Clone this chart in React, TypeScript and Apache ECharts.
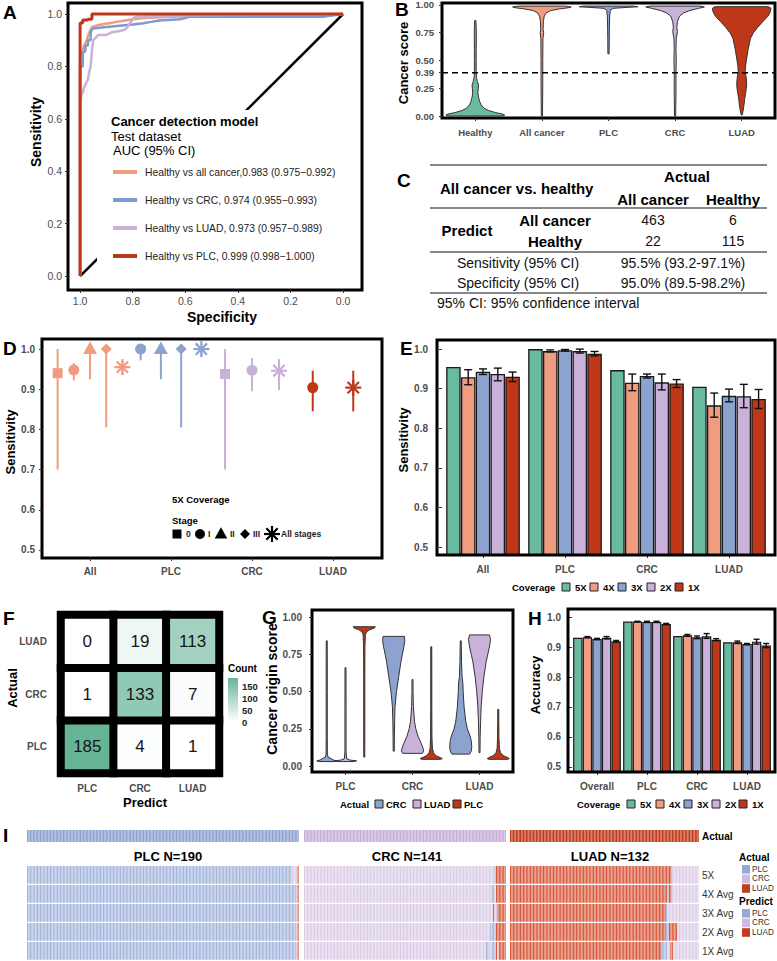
import { useEffect, useRef } from 'react';
import * as echarts from 'echarts';

const FONT = '"Liberation Sans", Arial, Helvetica, sans-serif';
const TEAL = '#6ABAA0';
const SALMON = '#EF9C80';
const BLUE = '#8DA3CF';
const LAV = '#C9B1DA';
const RED = '#BE3719';
const AXC = '#4D4D4D';

// ---------- Panel A : ROC curves, [specificity, sensitivity]
const rocAllCancer = [[1, 0], [1, 0.84], [0.99, 0.86], [0.985, 0.88], [0.975, 0.9], [0.965, 0.93], [0.955, 0.95], [0.94, 0.955], [0.92, 0.96], [0.89, 0.965], [0.86, 0.97], [0.83, 0.975], [0.8, 0.98], [0.76, 0.985], [0.65, 0.99], [0.45, 0.995], [0, 1]];
const rocCRC = [[1, 0], [1, 0.8], [0.99, 0.8], [0.99, 0.85], [0.98, 0.86], [0.98, 0.88], [0.97, 0.88], [0.97, 0.9], [0.96, 0.9], [0.96, 0.93], [0.955, 0.94], [0.95, 0.945], [0.9, 0.95], [0.85, 0.955], [0.8, 0.96], [0.76, 0.965], [0.73, 0.97], [0.7, 0.975], [0.62, 0.98], [0.58, 0.99], [0.07, 0.99], [0, 1]];
const rocLUAD = [[1, 0], [1, 0.63], [0.995, 0.69], [0.99, 0.7], [0.985, 0.72], [0.975, 0.74], [0.97, 0.75], [0.965, 0.78], [0.96, 0.8], [0.955, 0.86], [0.95, 0.9], [0.94, 0.91], [0.93, 0.92], [0.9, 0.92], [0.88, 0.93], [0.85, 0.935], [0.83, 0.94], [0.82, 0.95], [0.8, 0.98], [0.79, 0.99], [0.6, 0.995], [0, 1]];
const rocPLC = [[1, 0], [1, 0.966], [0.99, 0.966], [0.99, 0.977], [0.97, 0.977], [0.97, 0.98], [0.955, 0.98], [0.955, 1], [0, 1]];
const rocDiagonal = [[1, 0], [0, 1]];
const rocLegend = [
  'Healthy vs all cancer,0.983 (0.975\u22120.992)',
  'Healthy vs CRC, 0.974 (0.955\u22120.993)',
  'Healthy vs LUAD, 0.973 (0.957\u22120.989)',
  'Healthy vs PLC, 0.999 (0.998\u22121.000)',
];
const aTicks = [0, 0.2, 0.4, 0.6, 0.8, 1];

// ---------- Panel B : cancer score violins, profiles [score, relative half width]
const bCats = ['Healthy', 'All cancer', 'PLC', 'CRC', 'LUAD'];
const bHealthy = [[0, 0.97], [0.01, 1], [0.02, 0.9], [0.03, 0.7], [0.05, 0.45], [0.07, 0.3], [0.1, 0.2], [0.13, 0.15], [0.17, 0.11], [0.21, 0.09], [0.25, 0.1], [0.28, 0.11], [0.31, 0.07], [0.35, 0.04], [0.4, 0.03], [0.5, 0.03], [0.6, 0.03], [0.7, 0.035], [0.8, 0.03], [0.86, 0.02]];
const bAllCancer = [[0, 0.02], [0.3, 0.03], [0.5, 0.03], [0.7, 0.035], [0.75, 0.06], [0.78, 0.04], [0.85, 0.05], [0.9, 0.08], [0.93, 0.15], [0.95, 0.3], [0.965, 0.6], [0.975, 0.9], [0.982, 1], [0.99, 0.8]];
const bPLC = [[0.56, 0.02], [0.7, 0.025], [0.8, 0.03], [0.9, 0.04], [0.95, 0.06], [0.97, 0.15], [0.978, 0.6], [0.984, 1], [0.99, 0.85]];
const bCRC = [[0, 0.02], [0.2, 0.03], [0.4, 0.03], [0.5, 0.04], [0.6, 0.03], [0.7, 0.04], [0.76, 0.08], [0.8, 0.06], [0.85, 0.08], [0.9, 0.15], [0.93, 0.3], [0.95, 0.5], [0.97, 0.8], [0.982, 1], [0.99, 0.85]];
const bLUAD = [[0.01, 0.01], [0.05, 0.05], [0.1, 0.08], [0.15, 0.1], [0.2, 0.13], [0.25, 0.16], [0.3, 0.17], [0.35, 0.15], [0.4, 0.12], [0.45, 0.13], [0.5, 0.16], [0.6, 0.22], [0.7, 0.3], [0.75, 0.4], [0.8, 0.55], [0.85, 0.72], [0.9, 0.9], [0.94, 0.98], [0.97, 1], [0.985, 0.92]];
const bViolins = [bHealthy, bAllCancer, bPLC, bCRC, bLUAD];
const bColors = [TEAL, SALMON, BLUE, LAV, RED];
const bTicks = [0, 0.25, 0.39, 0.5, 0.75, 1];
const bCutoff = 0.39;

// ---------- Panel C : confusion table
const cMatrix = [[463, 6], [22, 115]];
const cSens = '95.5% (93.2-97.1%)';
const cSpec = '95.0% (89.5-98.2%)';

// ---------- Panel D : sensitivity by stage (5X)
const dCats = ['All', 'PLC', 'CRC', 'LUAD'];
const dStageNames = ['0', 'I', 'II', 'III', 'All stages'];
const dStages = [[0, 1, 2, 3, 4], [1, 2, 3, 4], [0, 1, 4], [1, 4]];
const dEst = [[0.94, 0.948, 1, 1, 0.955], [1, 1, 1, 1], [0.938, 0.947, 0.946], [0.904, 0.904]];
const dLo = [[0.7, 0.922, 0.925, 0.805, 0.935], [0.972, 0.925, 0.805, 0.985], [0.7, 0.895, 0.898], [0.845, 0.845]];
const dHi = [[1, 0.965, 1, 1, 0.97], [1, 1, 1, 1], [1, 0.978, 0.975], [0.946, 0.946]];
const dColors = [SALMON, BLUE, LAV, RED];
const dTicks = [0.5, 0.6, 0.7, 0.8, 0.9, 1];

// ---------- Panel E : sensitivity by coverage
const covNames = ['5X', '4X', '3X', '2X', '1X'];
const covColors = [TEAL, SALMON, BLUE, LAV, RED];
const eCats = ['All', 'PLC', 'CRC', 'LUAD'];
const eVals = [[0.955, 1.0, 0.947, 0.905], [0.929, 0.995, 0.915, 0.858], [0.943, 0.997, 0.932, 0.882], [0.937, 0.995, 0.916, 0.881], [0.93, 0.988, 0.913, 0.874]];
const eLo = [null, [0.91, 0.993, 0.895, 0.828], [0.936, 0.995, 0.927, 0.867], [0.92, 0.99, 0.897, 0.852], [0.918, 0.983, 0.903, 0.85]];
const eHi = [null, [0.948, 0.998, 0.937, 0.889], [0.95, 0.999, 0.937, 0.899], [0.952, 1.0, 0.937, 0.911], [0.942, 0.994, 0.923, 0.898]];

// ---------- Panel F : origin confusion heatmap [actual][predict]
const fCats = ['PLC', 'CRC', 'LUAD'];
const fCounts = [[185, 4, 1], [1, 133, 7], [0, 19, 113]];
const fLegendTicks = [0, 50, 100, 150];

// ---------- Panel G : cancer origin score violins [x category][actual group]
const gCats = ['PLC', 'CRC', 'LUAD'];
const gActual = ['CRC', 'LUAD', 'PLC'];
const gColors = [BLUE, LAV, RED];
const gViolins = [
  [
    [[0.03, 0.7], [0.035, 0.9], [0.04, 0.6], [0.05, 0.4], [0.06, 0.12], [0.08, 0.06], [0.2, 0.05], [0.5, 0.05], [0.84, 0.04]],
    [[0.03, 0.8], [0.035, 1], [0.04, 0.4], [0.05, 0.1], [0.1, 0.05], [0.4, 0.05], [0.66, 0.04]],
    [[0.06, 0.04], [0.3, 0.05], [0.6, 0.05], [0.8, 0.06], [0.88, 0.1], [0.9, 0.2], [0.915, 0.5], [0.925, 0.9], [0.935, 1]],
  ],
  [
    [[0.1, 0.05], [0.2, 0.06], [0.3, 0.08], [0.4, 0.12], [0.5, 0.25], [0.6, 0.45], [0.7, 0.65], [0.75, 0.78], [0.8, 0.92], [0.84, 1], [0.87, 0.97]],
    [[0.085, 0.9], [0.1, 1], [0.12, 0.95], [0.15, 0.8], [0.2, 0.5], [0.25, 0.3], [0.3, 0.18], [0.4, 0.08], [0.5, 0.05], [0.58, 0.04]],
    [[0.045, 0.85], [0.05, 1], [0.06, 0.7], [0.07, 0.4], [0.09, 0.2], [0.12, 0.1], [0.2, 0.06], [0.4, 0.05], [0.6, 0.05], [0.8, 0.04]],
  ],
  [
    [[0.08, 0.8], [0.1, 0.95], [0.13, 1], [0.17, 0.95], [0.2, 0.85], [0.25, 0.6], [0.3, 0.45], [0.4, 0.3], [0.5, 0.22], [0.55, 0.2], [0.6, 0.12], [0.7, 0.07], [0.84, 0.04]],
    [[0.09, 0.04], [0.2, 0.06], [0.3, 0.1], [0.4, 0.15], [0.5, 0.25], [0.6, 0.4], [0.7, 0.6], [0.75, 0.75], [0.8, 0.9], [0.85, 1], [0.88, 0.9]],
    [[0.045, 0.85], [0.05, 1], [0.06, 0.75], [0.07, 0.45], [0.09, 0.2], [0.12, 0.1], [0.2, 0.06], [0.3, 0.05], [0.38, 0.04]],
  ],
];
const gTicks = [0, 0.25, 0.5, 0.75, 1];

// ---------- Panel H : accuracy by coverage
const hCats = ['Overall', 'PLC', 'CRC', 'LUAD'];
const hVals = [[0.931, 0.985, 0.937, 0.916], [0.933, 0.985, 0.939, 0.916], [0.927, 0.984, 0.933, 0.91], [0.931, 0.984, 0.936, 0.918], [0.919, 0.977, 0.924, 0.905]];
const hLo = [null, [0.931, 0.984, 0.936, 0.912], [0.925, 0.982, 0.928, 0.908], [0.927, 0.982, 0.929, 0.91], [0.916, 0.975, 0.921, 0.898]];
const hHi = [null, [0.935, 0.986, 0.942, 0.92], [0.929, 0.986, 0.937, 0.912], [0.935, 0.986, 0.945, 0.926], [0.922, 0.979, 0.928, 0.912]];

// ---------- Panel I : per-sample predictions, run lengths [class, count]; 0 PLC, 1 CRC, 2 LUAD
const iClasses = ['PLC', 'CRC', 'LUAD'];
const iRows = ['5X', '4X Avg', '3X Avg', '2X Avg', '1X Avg'];
const iSections = ['PLC N=190', 'CRC N=141', 'LUAD N=132'];
const iSectionSizes = [190, 141, 132];
const iRunsPLC = [
  [[0, 185], [1, 4], [2, 1]],
  [[0, 188], [1, 1], [2, 1]],
  [[0, 188], [1, 1], [2, 1]],
  [[0, 188], [1, 1], [2, 1]],
  [[0, 188], [1, 1], [2, 1]],
];
const iRunsCRC = [
  [[1, 133], [0, 1], [2, 7]],
  [[1, 131], [0, 2], [1, 1], [2, 7]],
  [[1, 132], [2, 1], [1, 2], [2, 6]],
  [[1, 130], [0, 4], [2, 7]],
  [[1, 127], [0, 2], [1, 2], [0, 3], [2, 1], [1, 1], [2, 5]],
];
const iRunsLUAD = [
  [[2, 113], [1, 19]],
  [[2, 110], [0, 1], [2, 2], [1, 19]],
  [[2, 109], [0, 1], [1, 22]],
  [[2, 109], [0, 2], [2, 6], [1, 15]],
  [[2, 106], [0, 4], [1, 2], [2, 2], [1, 18]],
];
const iRuns = [iRunsPLC, iRunsCRC, iRunsLUAD];
const iActualColors = ['#8EA2CF', '#C7AFD9', '#C13B1C'];
const iPredColors = ['#A3B5DD', '#DACCE6', '#D8573A'];
const iLegendColors = ['#93A9D6', '#CFB9E1', '#C23B1C'];

// ---------------- helpers
function T(x: number, y: number, text: string, size: number, o: any = {}) {
  const al = o.align || 'left';
  return {
    type: 'text', x, y, z: 100, rotation: o.rot ? Math.PI / 2 : 0,
    style: {
      text, fontSize: size, fontWeight: o.bold ? 'bold' : 'normal', fontFamily: FONT,
      fill: o.color || '#000', align: al, textAlign: al, verticalAlign: 'middle', textVerticalAlign: 'middle',
    },
  };
}
function L(x1: number, y1: number, x2: number, y2: number, color: string, w: number) {
  return { type: 'line', z: 100, shape: { x1, y1, x2, y2 }, style: { stroke: color, lineWidth: w } };
}
function box(x: number, y: number, w: number, h: number, fill: string, stroke = '#222', lw = 1) {
  return { type: 'rect', z: 100, shape: { x, y, width: w, height: h }, style: { fill, stroke, lineWidth: lw } };
}
function symbolEl(st: number, cx: number, cy: number, color: string, s = 1): any {
  if (st === 0) return { type: 'rect', shape: { x: cx - 5 * s, y: cy - 5 * s, width: 10 * s, height: 10 * s }, style: { fill: color } };
  if (st === 1) return { type: 'circle', shape: { cx, cy, r: 5.5 * s }, style: { fill: color } };
  if (st === 2) return { type: 'polygon', shape: { points: [[cx, cy - 7.5 * s], [cx + 7 * s, cy + 5 * s], [cx - 7 * s, cy + 5 * s]] }, style: { fill: color } };
  if (st === 3) return { type: 'polygon', shape: { points: [[cx, cy - 5.5 * s], [cx + 5.5 * s, cy], [cx, cy + 5.5 * s], [cx - 5.5 * s, cy]] }, style: { fill: color } };
  const r = 8 * s;
  const d = r * Math.SQRT1_2;
  return {
    type: 'group',
    children: [[0, -r, 0, r], [-r, 0, r, 0], [-d, -d, d, d], [-d, d, d, -d]].map(([a, b, c, e]) => ({
      type: 'line', shape: { x1: cx + a, y1: cy + b, x2: cx + c, y2: cy + e }, style: { stroke: color, lineWidth: 2.2 * s },
    })),
  };
}
function violinPoints(prof: number[][], center: number, half: number, api: any, ci: number) {
  const right = prof.map(([s, w]) => [center + Math.max(w * half, 0.5), api.coord([ci, s])[1]]);
  const left = prof.slice().reverse().map(([s, w]) => [center - Math.max(w * half, 0.5), api.coord([ci, s])[1]]);
  return right.concat(left);
}

const tickStyle = { show: true, length: 3, lineStyle: { color: '#333', width: 1 } };
function lab(size: number, bold: boolean, margin: number, extra: any = {}) {
  return { fontSize: size, fontWeight: bold ? 'bold' : 'normal', color: AXC, fontFamily: FONT, margin, ...extra };
}
function valAxis(gi: number, min: number, max: number, ticks: number[] | null, label: any, extra: any = {}) {
  return {
    type: 'value', gridIndex: gi, min, max,
    axisLine: { show: false, onZero: false }, splitLine: { show: false },
    axisTick: ticks ? { ...tickStyle, customValues: ticks } : { show: false },
    axisLabel: ticks ? { ...label, customValues: ticks } : { show: false },
    ...extra,
  };
}
function catAxis(gi: number, data: string[], label: any, ticks = true) {
  return {
    type: 'category', gridIndex: gi, data,
    axisLine: { show: false, onZero: false }, splitLine: { show: false },
    axisTick: ticks ? { ...tickStyle, alignWithLabel: true } : { show: false },
    axisLabel: { ...label, interval: 0 },
  };
}
function errorBarSeries(gi: number, lo: any[], hi: any[], spacing: number, cap: number) {
  const data: number[][] = [];
  lo.forEach((arr, k) => {
    if (!arr) return;
    arr.forEach((v: number, ci: number) => data.push([ci, v, k, hi[k][ci]]));
  });
  return {
    type: 'custom', xAxisIndex: gi, yAxisIndex: gi, silent: true, clip: false, z: 5,
    encode: { x: 0, y: 1 },
    data,
    renderItem: (_p: any, api: any) => {
      const ci = api.value(0);
      const k = api.value(2);
      const b = api.coord([ci, api.value(1)]);
      const t = api.coord([ci, api.value(3)]);
      const x = b[0] + (k - 2) * spacing;
      const st = { stroke: '#111', lineWidth: 1.4 };
      return {
        type: 'group', children: [
          { type: 'line', shape: { x1: x, y1: b[1], x2: x, y2: t[1] }, style: st },
          { type: 'line', shape: { x1: x - cap, y1: b[1], x2: x + cap, y2: b[1] }, style: st },
          { type: 'line', shape: { x1: x - cap, y1: t[1], x2: x + cap, y2: t[1] }, style: st },
        ],
      };
    },
  };
}

function buildOption() {
  const gridBorder = { show: true, borderColor: '#000', borderWidth: 3, backgroundColor: 'transparent' };
  const grids: any[] = [
    { left: 68, top: 3, width: 294, height: 287, ...gridBorder }, // 0 A
    { left: 442, top: 3, width: 333, height: 115, ...gridBorder }, // 1 B
    { left: 42, top: 339, width: 340, height: 219, ...gridBorder }, // 2 D
    { left: 442, top: 340, width: 328, height: 215 }, // 3 E
    { left: 61, top: 615, width: 158, height: 158 }, // 4 F
    { left: 312, top: 610, width: 201, height: 162, ...gridBorder }, // 5 G
    { left: 572, top: 609, width: 200, height: 163 }, // 6 H
  ];
  const iX = [[27, 272], [304, 202], [510, 189]];
  iX.forEach(([l, w]) => grids.push({ left: l, top: 830, width: w, height: 12 })); // 7,8,9
  iX.forEach(([l, w]) => grids.push({ left: l, top: 866, width: w, height: 95 })); // 10,11,12
  grids.forEach((g) => { g.outerBoundsMode = 'none'; g.containLabel = false; });

  const xAxes: any[] = [];
  const yAxes: any[] = [];
  // A
  xAxes.push(valAxis(0, -0.072, 1.046, aTicks, lab(10.5, false, 5, { formatter: (v: number) => v.toFixed(1) }), { inverse: true }));
  yAxes.push(valAxis(0, -0.053, 1.042, aTicks, lab(10.5, false, 6, { formatter: (v: number) => v.toFixed(1) })));
  // B
  xAxes.push(catAxis(1, bCats, lab(9.5, true, 9)));
  yAxes.push(valAxis(1, -0.018, 1.018, bTicks, lab(9.5, true, 8, { formatter: (v: number) => v.toFixed(2) })));
  // D
  xAxes.push(valAxis(2, 0.407, 4.605, [1, 2, 3, 4], lab(10, true, 8, { formatter: (v: number) => dCats[Math.round(v) - 1] })));
  yAxes.push(valAxis(2, 0.48, 1.025, dTicks, lab(10, true, 7, { formatter: (v: number) => v.toFixed(1) })));
  // E
  xAxes.push(catAxis(3, eCats, lab(10, true, 9)));
  yAxes.push(valAxis(3, 0.48, 1.023, dTicks, lab(10, true, 14, { formatter: (v: number) => v.toFixed(1) })));
  // F
  xAxes.push(catAxis(4, fCats, lab(10, true, 10), false));
  yAxes.push(catAxis(4, fCats, lab(10, true, 14), false));
  // G
  xAxes.push(catAxis(5, gCats, lab(10, true, 9)));
  yAxes.push(valAxis(5, -0.04, 1.047, gTicks, lab(10, true, 10, { formatter: (v: number) => v.toFixed(2) })));
  // H
  xAxes.push(catAxis(6, hCats, lab(10, true, 9)));
  yAxes.push(valAxis(6, 0.483, 1.027, dTicks, lab(10, true, 11, { formatter: (v: number) => v.toFixed(1) })));
  // I
  for (let r = 0; r < 2; r++) {
    iSectionSizes.forEach((n, s) => {
      const gi = 7 + r * 3 + s;
      xAxes.push({ type: 'value', gridIndex: gi, min: -0.5, max: n - 0.5, show: false });
      yAxes.push({ type: 'value', gridIndex: gi, min: -0.5, max: r === 0 ? 0.5 : iRows.length - 0.5, inverse: true, show: false });
    });
  }

  const series: any[] = [];
  // ---- A
  const rocs = [rocAllCancer, rocCRC, rocLUAD, rocPLC];
  const rocColors = [SALMON, '#7E9AD2', LAV, RED];
  series.push({ type: 'line', xAxisIndex: 0, yAxisIndex: 0, data: rocDiagonal, showSymbol: false, lineStyle: { color: '#000', width: 2.5 }, silent: true });
  rocs.forEach((d, i) => series.push({
    type: 'line', xAxisIndex: 0, yAxisIndex: 0, data: d, showSymbol: false, silent: true,
    lineStyle: { color: rocColors[i], width: i === 3 ? 3 : 2.5 },
  }));
  // ---- B
  series.push({
    type: 'custom', xAxisIndex: 1, yAxisIndex: 1, silent: true, encode: { x: 0, y: 1 },
    data: bCats.map((_, i) => [i, 0.5, i]),
    renderItem: (_p: any, api: any) => {
      const ci = api.value(0);
      const vi = api.value(2);
      const band = api.size([1, 0])[0];
      const center = api.coord([ci, 0])[0];
      return { type: 'polygon', shape: { points: violinPoints(bViolins[vi], center, band * 0.44, api, ci) }, style: { fill: bColors[vi], stroke: '#333', lineWidth: 1 } };
    },
  });
  series.push({
    type: 'custom', xAxisIndex: 1, yAxisIndex: 1, silent: true, encode: { x: 0, y: 1 }, z: 10,
    data: [[0, bCutoff]],
    renderItem: (p: any, api: any) => {
      const y = api.coord([0, api.value(1)])[1];
      const cs = p.coordSys;
      return { type: 'line', shape: { x1: cs.x, y1: y, x2: cs.x + cs.width, y2: y }, style: { stroke: '#000', lineWidth: 1.4, lineDash: [6, 4] } };
    },
  });
  // ---- D
  const dData: number[][] = [];
  dStages.forEach((sts, ci) => {
    const n = sts.length;
    sts.forEach((st, j) => dData.push([ci + 1 + (j - (n - 1) / 2) / n, dEst[ci][j], dLo[ci][j], dHi[ci][j], st, ci]));
  });
  series.push({
    type: 'custom', xAxisIndex: 2, yAxisIndex: 2, silent: true, clip: false, encode: { x: 0, y: 1 },
    data: dData,
    renderItem: (_p: any, api: any) => {
      const x = api.value(0);
      const p = api.coord([x, api.value(1)]);
      const lo = api.coord([x, api.value(2)]);
      const hi = api.coord([x, api.value(3)]);
      const col = dColors[api.value(5)];
      return {
        type: 'group', children: [
          { type: 'line', shape: { x1: p[0], y1: lo[1], x2: p[0], y2: hi[1] }, style: { stroke: col, lineWidth: 2 } },
          symbolEl(api.value(4), p[0], p[1], col),
        ],
      };
    },
  });
  // ---- E
  covNames.forEach((nm, k) => series.push({
    type: 'bar', name: nm, xAxisIndex: 3, yAxisIndex: 3, data: eVals[k], barWidth: 14.5, barGap: '2%', silent: true,
    itemStyle: { color: covColors[k], borderColor: '#1a1a1a', borderWidth: 1.3 },
  }));
  series.push(errorBarSeries(3, eLo, eHi, 14.5 * 1.02, 4));
  // ---- F
  const fIdx = series.length;
  const fData: number[][] = [];
  fCounts.forEach((row, a) => row.forEach((v, p) => fData.push([p, a, v])));
  series.push({
    type: 'heatmap', xAxisIndex: 4, yAxisIndex: 4, data: fData, silent: true,
    itemStyle: { borderColor: '#000', borderWidth: 8 },
    label: { show: true, formatter: (p: any) => String(p.value[2]), fontSize: 17, color: '#151515', fontFamily: FONT },
    emphasis: { disabled: true },
  });
  // ---- G
  const gData: number[][] = [];
  gViolins.forEach((grp, ci) => grp.forEach((_, gi) => gData.push([ci, 0.5, gi])));
  series.push({
    type: 'custom', xAxisIndex: 5, yAxisIndex: 5, silent: true, encode: { x: 0, y: 1 },
    data: gData,
    renderItem: (_p: any, api: any) => {
      const ci = api.value(0);
      const gi = api.value(2);
      const band = api.size([1, 0])[0];
      const center = api.coord([ci, 0])[0] + (gi - 1) * 0.28 * band;
      return { type: 'polygon', shape: { points: violinPoints(gViolins[ci][gi], center, band * 0.165, api, ci) }, style: { fill: gColors[gi], stroke: '#333', lineWidth: 1 } };
    },
  });
  // ---- H
  covNames.forEach((nm, k) => series.push({
    type: 'bar', name: nm, xAxisIndex: 6, yAxisIndex: 6, data: hVals[k], barWidth: 9.4, barGap: '2%', silent: true,
    itemStyle: { color: covColors[k], borderColor: '#1a1a1a', borderWidth: 1.2 },
  }));
  series.push(errorBarSeries(6, hLo, hHi, 9.4 * 1.02, 3));
  // ---- I
  iSectionSizes.forEach((n, s) => {
    const actData: number[][] = [];
    for (let c = 0; c < n; c++) actData.push([c, 0, s]);
    series.push({
      type: 'custom', xAxisIndex: 7 + s, yAxisIndex: 7 + s, silent: true, encode: { x: 0, y: 1 }, data: actData,
      renderItem: (_p: any, api: any) => {
        const p = api.coord([api.value(0), api.value(1)]);
        const sz = api.size([1, 1]);
        return { type: 'rect', shape: { x: p[0] - sz[0] / 2, y: p[1] - sz[1] / 2, width: sz[0] - 0.2, height: sz[1] }, style: { fill: iActualColors[api.value(2)] } };
      },
    });
    const predData: number[][] = [];
    iRuns[s].forEach((runs, r) => {
      let c = 0;
      runs.forEach(([cls, cnt]) => { for (let q = 0; q < cnt; q++) predData.push([c++, r, cls]); });
    });
    series.push({
      type: 'custom', xAxisIndex: 10 + s, yAxisIndex: 10 + s, silent: true, encode: { x: 0, y: 1 }, data: predData,
      renderItem: (_p: any, api: any) => {
        const p = api.coord([api.value(0), api.value(1)]);
        const sz = api.size([1, 1]);
        return { type: 'rect', shape: { x: p[0] - sz[0] / 2, y: p[1] - sz[1] / 2, width: sz[0] - 0.35, height: sz[1] - 1.2 }, style: { fill: iPredColors[api.value(2)] } };
      },
    });
  });

  // ---------------- graphic
  const g: any[] = [];
  // panel letters
  ([['A', 3, 12], ['B', 395, 9], ['C', 397, 180], ['D', 3, 348], ['E', 400, 348], ['F', 3, 618], ['G', 262, 617], ['H', 528, 618], ['I', 3, 835]] as any[])
    .forEach(([t, x, y]) => g.push(T(x, y, t, 19, { bold: true })));
  // A
  g.push({ type: 'rect', z: 90, shape: { x: 97, y: 110, width: 256, height: 152 }, style: { fill: '#fff' } });
  g.push(T(36, 132, 'Sensitivity', 14, { bold: true, rot: true, align: 'center' }));
  g.push(T(222, 317, 'Specificity', 14, { bold: true, align: 'center' }));
  g.push(T(111, 121, 'Cancer detection model', 13, { bold: true }));
  g.push(T(111, 136, 'Test dataset', 13));
  g.push(T(113, 150, 'AUC (95% CI)', 13));
  const legY = [172, 200, 228, 256];
  rocLegend.forEach((t, i) => {
    g.push(L(113, legY[i], 137, legY[i], rocColors[i], 4));
    g.push(T(145, legY[i], t, 10.3, { color: '#222' }));
  });
  // B
  g.push(T(403, 63, 'Cancer score', 13, { bold: true, rot: true, align: 'center' }));
  // C
  [165, 208, 252, 293].forEach((y) => g.push(L(430, y, 767, y, '#111', 1.1)));
  g.push(T(440, 188, 'All cancer vs. healthy', 15, { bold: true }));
  g.push(T(687, 176, 'Actual', 15, { bold: true, align: 'center' }));
  g.push(T(653, 199, 'All cancer', 15, { bold: true, align: 'center' }));
  g.push(T(733, 199, 'Healthy', 15, { bold: true, align: 'center' }));
  g.push(T(467, 230, 'Predict', 15, { bold: true, align: 'center' }));
  g.push(T(555, 220, 'All cancer', 15, { bold: true, align: 'center' }));
  g.push(T(555, 241, 'Healthy', 15, { bold: true, align: 'center' }));
  cMatrix.forEach((row, r) => row.forEach((v, c) => g.push(T(c === 0 ? 653 : 733, r === 0 ? 220 : 241, String(v), 14, { align: 'center', color: '#111' }))));
  g.push(T(518, 263, 'Sensitivity (95% CI)', 14, { align: 'center', color: '#111' }));
  g.push(T(683, 263, cSens, 14, { align: 'center', color: '#111' }));
  g.push(T(518, 283, 'Specificity (95% CI)', 14, { align: 'center', color: '#111' }));
  g.push(T(683, 283, cSpec, 14, { align: 'center', color: '#111' }));
  g.push(T(437, 303, '95% CI: 95% confidence interval', 14, { color: '#111' }));
  // D
  g.push(T(10, 442, 'Sensitivity', 13, { bold: true, rot: true, align: 'center' }));
  g.push(T(172, 499, '5X Coverage', 9.5, { bold: true }));
  g.push(T(172, 520, 'Stage', 9.5, { bold: true }));
  const dLegX = [177, 200, 221, 245, 272];
  const dLegTx = [186, 208, 230, 253, 281];
  dStageNames.forEach((nm, i) => {
    const el = symbolEl(i, dLegX[i], 534, '#000', i === 4 ? 1 : 0.9);
    el.z = 100;
    g.push(el);
    g.push(T(dLegTx[i], 534, nm, 8.5, { bold: true, color: '#222' }));
  });
  // E
  g.push({ type: 'rect', z: 50, shape: { x: 437, y: 340, width: 338, height: 215 }, style: { fill: 'none', stroke: '#000', lineWidth: 3 } });
  g.push(T(403, 440, 'Sensitivity', 13, { bold: true, rot: true, align: 'center' }));
  g.push(T(512, 587, 'Coverage', 9.5, { bold: true }));
  const eBox = [562, 590, 618, 647, 675];
  covNames.forEach((nm, k) => {
    g.push(box(eBox[k], 583, 8, 8, covColors[k]));
    g.push(T(eBox[k] + 13, 587, nm, 9.5, { bold: true }));
  });
  // F
  g.push(T(12, 688, 'Actual', 13, { bold: true, rot: true, align: 'center' }));
  g.push(T(145, 802, 'Predict', 13, { bold: true, align: 'center' }));
  g.push(T(228, 668, 'Count', 10, { bold: true }));
  g.push({
    type: 'rect', z: 100, shape: { x: 228, y: 678, width: 10, height: 44 },
    style: { fill: { type: 'linear', x: 0, y: 0, x2: 0, y2: 1, colorStops: [{ offset: 0, color: '#66B596' }, { offset: 1, color: '#FFFFFF' }] } },
  });
  fLegendTicks.forEach((v) => g.push(T(242, 722 - (v * 44) / 185, String(v), 9.5, { bold: true, color: '#222' })));
  // G
  g.push(T(272, 689, 'Cancer origin score', 14, { bold: true, rot: true, align: 'center' }));
  g.push(T(340, 804, 'Actual', 9.5, { bold: true }));
  const gBox = [375, 413, 453];
  gActual.forEach((nm, i) => {
    g.push(box(gBox[i], 800, 8, 8, gColors[i]));
    g.push(T(gBox[i] + 11, 804, nm, 9.5, { bold: true }));
  });
  // H
  g.push({ type: 'rect', z: 50, shape: { x: 568, y: 609, width: 207, height: 163 }, style: { fill: 'none', stroke: '#000', lineWidth: 3 } });
  g.push(T(535, 685, 'Accuracy', 13, { bold: true, rot: true, align: 'center' }));
  g.push(T(577, 804, 'Coverage', 9.5, { bold: true }));
  const hBox = [627, 656, 684, 712, 739];
  covNames.forEach((nm, k) => {
    g.push(box(hBox[k], 800, 8, 8, covColors[k]));
    g.push(T(hBox[k] + 13, 804, nm, 9.5, { bold: true }));
  });
  // I
  g.push(T(702, 836, 'Actual', 10, { bold: true }));
  const iTitleX = [168, 407, 610];
  iSections.forEach((t, s) => g.push(T(iTitleX[s], 856, t, 13, { bold: true, align: 'center' })));
  iRows.forEach((t, r) => g.push(T(702, 866 + (r + 0.5) * 19, t, 10, { color: '#333' })));
  const legStep = 9.6;
  g.push(T(739, 857, 'Actual', 10, { bold: true }));
  iClasses.forEach((nm, i) => {
    g.push(box(742, 865 + i * legStep, 8, 8.6, iLegendColors[i], 'none', 0));
    g.push(T(752, 869.3 + i * legStep, nm, 8.2, { color: '#333' }));
  });
  g.push(T(739, 901, 'Predict', 10, { bold: true }));
  iClasses.forEach((nm, i) => {
    g.push(box(742, 909 + i * legStep, 8, 8.6, iLegendColors[i], 'none', 0));
    g.push(T(752, 913.3 + i * legStep, nm, 8.2, { color: '#333' }));
  });

  return {
    animation: false,
    backgroundColor: '#fff',
    textStyle: { fontFamily: FONT },
    grid: grids,
    xAxis: xAxes,
    yAxis: yAxes,
    visualMap: [{ type: 'continuous', show: false, min: 0, max: 185, dimension: 2, seriesIndex: fIdx, inRange: { color: ['#FFFFFF', '#66B596'] } }],
    series,
    graphic: { elements: g },
  };
}

export default function App() {
  const ref = useRef<HTMLDivElement>(null);
  useEffect(() => {
    const chart = echarts.init(ref.current!, null, { renderer: 'svg', width: 777, height: 961 });
    chart.setOption(buildOption() as any);
    return () => chart.dispose();
  }, []);
  return <div ref={ref} style={{ position: 'fixed', left: 0, top: 0, width: 777, height: 961, background: '#fff' }} />;
}
